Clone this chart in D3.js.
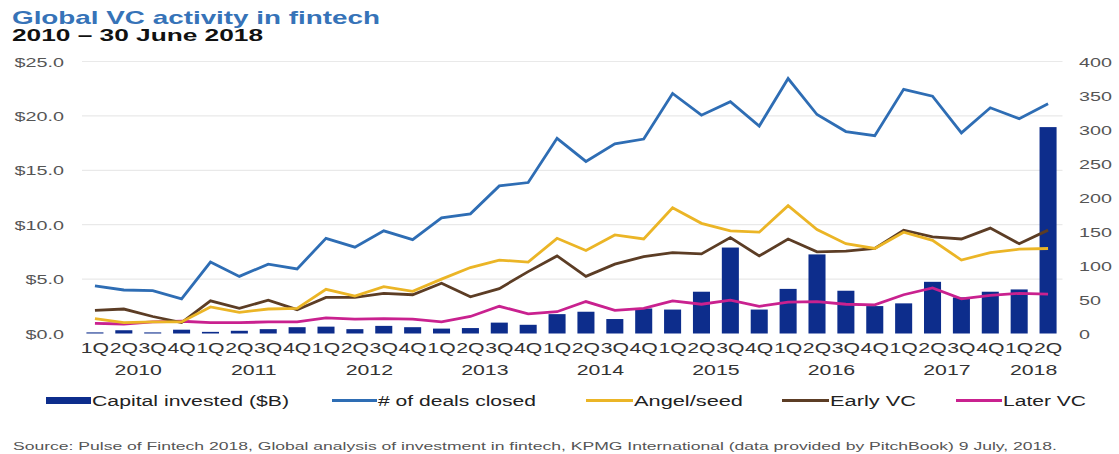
<!DOCTYPE html>
<html>
<head>
<meta charset="utf-8">
<script src="https://cdn.jsdelivr.net/npm/d3@7"></script>
<style>
  html, body { margin: 0; padding: 0; background: #fff; }
  svg { display: block; font-family: "Liberation Sans", Arial, sans-serif; }
</style>
</head>
<body>
<svg id="chart" width="1119" height="454"></svg>
<script>
// ---- data ----
const years = ["2010","2011","2012","2013","2014","2015","2016","2017","2018"];
const quarterNames = ["1Q","2Q","3Q","4Q"];
const periods = [];
years.forEach(y => quarterNames.forEach(q => { if (!(y === "2018" && (q === "3Q" || q === "4Q"))) periods.push(y + " " + q); }));

const capitalInvested = [0.1,0.3,0.1,0.35,0.15,0.25,0.4,0.58,0.63,0.4,0.7,0.58,0.45,0.5,1.0,0.8,1.78,
                         2.0,1.33,2.3,2.2,3.84,7.9,2.2,4.1,7.27,3.93,2.52,2.77,4.75,3.32,3.84,4.05,18.97];
const dealsClosed = [70,64,63,51,105,84,102,95,140,127,151,138,170,176,217,222,287,
                     253,279,286,353,321,341,305,375,322,297,291,359,349,295,332,316,338];
const angelSeed = [22,16,17,17,39,31,36,37,65,55,69,62,80,97,108,105,140,
                   122,145,139,185,162,151,149,188,153,132,125,149,137,108,119,124,125];
const earlyVC = [34,36,25,16,48,37,49,35,53,53,59,57,74,54,66,91,114,
                 84,102,113,119,117,141,114,139,120,121,125,152,142,139,155,132,152];
const laterVC = [15,14,17,18,16,16,17,17,23,21,22,21,17,25,40,29,32,
                 47,34,37,48,43,49,40,46,47,43,42,57,67,51,56,59,58];

const leftTicks = [0,5,10,15,20,25];
const rightTicks = [0,50,100,150,200,250,300,350,400];

const seriesLines = [
  { name: "# of deals closed", values: dealsClosed, color: "#2e6db4" },
  { name: "Angel/seed", values: angelSeed, color: "#ebb526" },
  { name: "Early VC", values: earlyVC, color: "#5c3d25" },
  { name: "Later VC", values: laterVC, color: "#c9218f" }
];
const barColor = "#0d2d8c";

// ---- layout ----
const svg = d3.select("#chart");
const plot = { left: 80.5, right: 1062.5, top: 61.5, bottom: 333.5 };
const STRETCH = 1.52;

function stretch(sel, k) {
  sel.each(function () {
    const w = this.getComputedTextLength();
    d3.select(this).attr("textLength", w * k).attr("lengthAdjust", "spacingAndGlyphs");
  });
}
function fixWidth(sel, w) {
  sel.attr("textLength", w).attr("lengthAdjust", "spacingAndGlyphs");
}

const x = d3.scaleBand().domain(periods).range([plot.left, plot.right]).paddingInner(0.41).paddingOuter(0.205);
const xc = d => x(d) + x.bandwidth() / 2;
const yL = d3.scaleLinear().domain([0, 25]).range([plot.bottom, plot.top]);
const yR = d3.scaleLinear().domain([0, 400]).range([plot.bottom, plot.top]);

// gridlines
svg.append("g").selectAll("line").data(leftTicks.filter(t => t > 0)).join("line")
  .attr("x1", 82).attr("x2", plot.right)
  .attr("y1", d => yL(d)).attr("y2", d => yL(d))
  .attr("stroke", "#e9e9e9").attr("stroke-width", 1.2);

// left axis
const gL = svg.append("g").attr("transform", `translate(64,0)`)
  .call(d3.axisLeft(yL).tickValues(leftTicks).tickSize(0).tickPadding(0).tickFormat(d => "$" + d3.format(".1f")(d)));
gL.select(".domain").remove();
gL.selectAll("text").attr("font-size", 13).attr("fill", "#555").attr("font-family", "Liberation Sans, Arial, sans-serif").attr("dy", "0.36em");
stretch(gL.selectAll("text"), STRETCH);

// right axis
const gR = svg.append("g").attr("transform", `translate(1079,0)`)
  .call(d3.axisRight(yR).tickValues(rightTicks).tickSize(0).tickPadding(0));
gR.select(".domain").remove();
gR.selectAll("text").attr("font-size", 13).attr("fill", "#555").attr("font-family", "Liberation Sans, Arial, sans-serif").attr("dy", "0.36em");
stretch(gR.selectAll("text"), STRETCH);

// bars
svg.append("g").selectAll("rect").data(periods).join("rect")
  .attr("x", d => x(d)).attr("width", x.bandwidth())
  .attr("y", (d, i) => yL(capitalInvested[i]))
  .attr("height", (d, i) => yL(0) - yL(capitalInvested[i]))
  .attr("fill", barColor);

// lines
const lineGen = d3.line().x((d, i) => xc(periods[i])).y(d => yR(d));
svg.append("g").selectAll("path").data(seriesLines.slice().reverse()).join("path")
  .attr("d", s => lineGen(s.values))
  .attr("fill", "none").attr("stroke", s => s.color).attr("stroke-width", 2.8)
  .attr("stroke-linejoin", "miter");

// x-axis: quarter labels
const gX = svg.append("g");
gX.selectAll("text.q").data(periods).join("text").attr("class", "q")
  .attr("x", d => xc(d)).attr("y", 353)
  .attr("text-anchor", "middle").attr("font-size", 14).attr("fill", "#333")
  .text(d => d.split(" ")[1]);
fixWidth(gX.selectAll("text.q"), 28.3);

// year labels
gX.selectAll("text.y").data(years).join("text").attr("class", "y")
  .attr("x", yr => {
    const ps = periods.filter(p => p.startsWith(yr));
    return (xc(ps[0]) + xc(ps[ps.length - 1])) / 2;
  })
  .attr("y", 375).attr("text-anchor", "middle").attr("font-size", 14).attr("fill", "#333")
  .text(d => d);
stretch(gX.selectAll("text.y"), STRETCH);

// title
svg.append("text").attr("x", 12).attr("y", 24).attr("font-size", 19).attr("font-weight", "bold")
  .attr("fill", "#3673b8").text("Global VC activity in fintech").call(fixWidth, 368);
svg.append("text").attr("x", 12).attr("y", 40.5).attr("font-size", 16).attr("font-weight", "bold")
  .attr("fill", "#111").text("2010 \u2013 30 June 2018").call(fixWidth, 251);

// legend
const legendItems = [
  { name: "Capital invested ($B)", type: "bar", color: barColor, x0: 46, x1: 91, tw: 197 },
  { name: seriesLines[0].name, type: "line", color: seriesLines[0].color, x0: 332, x1: 377, tw: 158 },
  { name: seriesLines[1].name, type: "line", color: seriesLines[1].color, x0: 586, x1: 633, tw: 109 },
  { name: seriesLines[2].name, type: "line", color: seriesLines[2].color, x0: 782, x1: 829, tw: 86 },
  { name: seriesLines[3].name, type: "line", color: seriesLines[3].color, x0: 956, x1: 1002, tw: 83 }
];
const gLeg = svg.append("g");
legendItems.forEach(it => {
  if (it.type === "bar") {
    gLeg.append("rect").attr("x", it.x0).attr("y", 397).attr("width", it.x1 - it.x0).attr("height", 7).attr("fill", it.color);
  } else {
    gLeg.append("line").attr("x1", it.x0).attr("x2", it.x1).attr("y1", 400.5).attr("y2", 400.5)
      .attr("stroke", it.color).attr("stroke-width", 3.2);
  }
  gLeg.append("text").attr("x", it.x1 + 1).attr("y", 405.5).attr("font-size", 14).attr("fill", "#222")
    .text(it.name).call(fixWidth, it.tw);
});

// source
svg.append("text").attr("x", 13).attr("y", 450).attr("font-size", 10.5).attr("fill", "#555")
  .text("Source: Pulse of Fintech 2018, Global analysis of investment in fintech, KPMG International (data provided by PitchBook) 9 July, 2018.")
  .call(fixWidth, 1044);
</script>
</body>
</html>
